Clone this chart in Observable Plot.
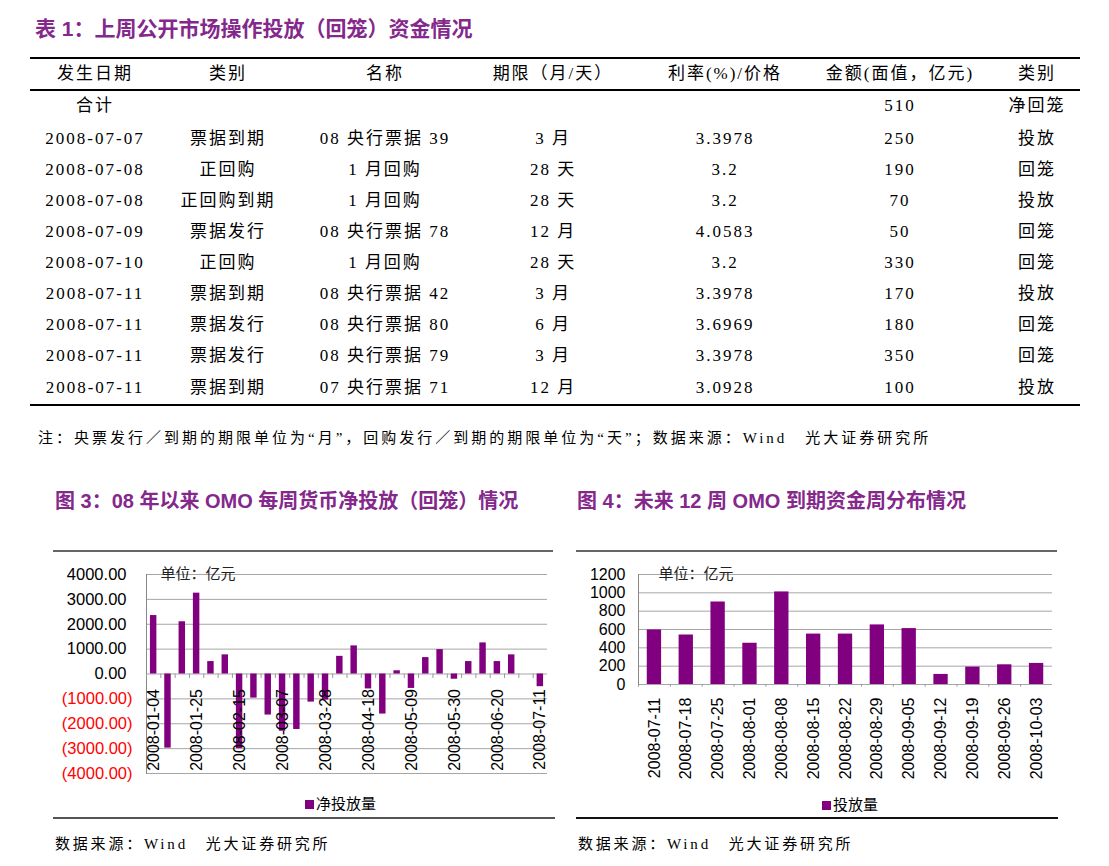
<!DOCTYPE html>
<html><head><meta charset="utf-8">
<script src="https://cdn.jsdelivr.net/npm/d3@7"></script>
<script src="https://cdn.jsdelivr.net/npm/@observablehq/plot@0.6"></script>
<style>
body{margin:0;background:#fff;width:1109px;height:866px;position:relative;overflow:hidden;font-family:"Liberation Serif","Noto Sans CJK SC",serif;color:#000;}
.abs{position:absolute;white-space:nowrap;}
.ttl{color:#84288C;font-family:"Liberation Sans","Noto Sans CJK SC",sans-serif;font-weight:bold;}
.cell{position:absolute;width:240px;text-align:center;font-size:17px;line-height:22px;letter-spacing:2px;white-space:nowrap;}
.line{position:absolute;background:#000;}
.small{font-size:15px;font-family:"Liberation Serif","Noto Sans CJK SC",serif;}
.leg{font-family:"Noto Sans CJK SC",sans-serif;font-size:15px;}
.sq{display:inline-block;width:9px;height:9px;background:#800080;margin-right:2px;vertical-align:0px;}
</style></head>
<body>
<div id="root"></div>
<script>
// ---------- table data ----------
const tableHeaders = ["发生日期","类别","名称","期限（月/天）","利率(%)/价格","金额(面值，亿元)","类别"];
const totalLabel = "合计";
const totalAmount = "510";
const totalDir = "净回笼";
const tableDates = ["2008-07-07","2008-07-08","2008-07-08","2008-07-09","2008-07-10","2008-07-11","2008-07-11","2008-07-11","2008-07-11"];
const tableTypes = ["票据到期","正回购","正回购到期","票据发行","正回购","票据到期","票据发行","票据发行","票据到期"];
const tableNames = ["08 央行票据 39","1 月回购","1 月回购","08 央行票据 78","1 月回购","08 央行票据 42","08 央行票据 80","08 央行票据 79","07 央行票据 71"];
const tableTerms = ["3 月","28 天","28 天","12 月","28 天","3 月","6 月","3 月","12 月"];
const tableRates = ["3.3978","3.2","3.2","4.0583","3.2","3.3978","3.6969","3.3978","3.0928"];
const tableAmounts = ["250","190","70","50","330","170","180","350","100"];
const tableDirs = ["投放","回笼","投放","回笼","回笼","投放","回笼","回笼","投放"];

// ---------- chart 3 data ----------
const leftDates = ["2008-01-04","2008-01-11","2008-01-18","2008-01-25","2008-02-01","2008-02-08","2008-02-15","2008-02-22","2008-02-29","2008-03-07","2008-03-14","2008-03-21","2008-03-28","2008-04-04","2008-04-11","2008-04-18","2008-04-25","2008-05-02","2008-05-09","2008-05-16","2008-05-23","2008-05-30","2008-06-06","2008-06-13","2008-06-20","2008-06-27","2008-07-04","2008-07-11"];
const leftValues = [2350,-2980,2100,3250,500,770,-3000,-970,-1650,-2300,-2230,-1130,-1050,710,1130,-600,-1610,130,-580,660,980,-210,500,1250,500,770,0,-510];
const leftTickLabels = ["2008-01-04","2008-01-25","2008-02-15","2008-03-07","2008-03-28","2008-04-18","2008-05-09","2008-05-30","2008-06-20","2008-07-11"];
const leftYTicks = [-4000,-3000,-2000,-1000,0,1000,2000,3000,4000];

// ---------- chart 4 data ----------
const rightDates = ["2008-07-11","2008-07-18","2008-07-25","2008-08-01","2008-08-08","2008-08-15","2008-08-22","2008-08-29","2008-09-05","2008-09-12","2008-09-19","2008-09-26","2008-10-03"];
const rightValues = [595,540,900,450,1010,550,550,650,610,110,190,215,230];
const rightYTicks = [0,200,400,600,800,1000,1200];

const unitText = "单位：亿元";
const root = document.getElementById("root");
function add(html){ root.insertAdjacentHTML("beforeend", html); }

// ---------- titles ----------
add(`<div class="abs ttl" style="left:35px;top:12px;font-size:21px;">表 1：上周公开市场操作投放（回笼）资金情况</div>`);
add(`<div class="abs ttl" style="left:55px;top:485px;font-size:20px;">图 3：08 年以来 OMO 每周货币净投放（回笼）情况</div>`);
add(`<div class="abs ttl" style="left:577px;top:485px;font-size:20px;">图 4：未来 12 周 OMO 到期资金周分布情况</div>`);

// ---------- table ----------
const colX = [95,228,385,553,725,900,1037];
const rowY = [139,170,201,232,263,294,325,356,388];
function cell(cx, cy, txt){ add(`<div class="cell" style="left:${cx-120}px;top:${cy-11}px;">${txt}</div>`); }
add(`<div class="line" style="left:30px;top:57px;width:1050px;height:2px;"></div>`);
add(`<div class="line" style="left:30px;top:89px;width:1050px;height:2px;"></div>`);
add(`<div class="line" style="left:30px;top:404px;width:1050px;height:1.5px;"></div>`);
tableHeaders.forEach((h,i)=>cell(colX[i],74,h));
cell(colX[0],106,totalLabel); cell(colX[5],106,totalAmount); cell(colX[6],106,totalDir);
const cols = [tableDates,tableTypes,tableNames,tableTerms,tableRates,tableAmounts,tableDirs];
rowY.forEach((y,r)=>cols.forEach((c,i)=>cell(colX[i],y,c[r])));
add(`<div class="abs small" style="left:38px;top:426px;letter-spacing:3px;">注：央票发行／到期的期限单位为“月”，回购发行／到期的期限单位为“天”；数据来源：Wind　光大证券研究所</div>`);

// ---------- chart boxes ----------
add(`<div class="line" style="left:53px;top:550px;width:500px;height:2px;background:#666;"></div>`);
add(`<div class="line" style="left:576px;top:550px;width:481px;height:2px;background:#666;"></div>`);
add(`<div class="line" style="left:53px;top:817px;width:502px;height:2px;background:#555;"></div>`);
add(`<div class="line" style="left:576px;top:817px;width:482px;height:1.5px;background:#111;"></div>`);
add(`<div class="abs leg" style="left:305px;top:792px;"><span class="sq"></span>净投放量</div>`);
add(`<div class="abs leg" style="left:822px;top:793px;"><span class="sq"></span>投放量</div>`);
add(`<div class="abs small" style="left:55px;top:832px;letter-spacing:2.8px;">数据来源：Wind　光大证券研究所</div>`);
add(`<div class="abs small" style="left:578px;top:832px;letter-spacing:2.8px;">数据来源：Wind　光大证券研究所</div>`);

const purple = "#800080";
const grid = "#a6a6a6";
const fmtPos = d => d.toFixed(2);
const fmtNeg = d => `(${Math.abs(d).toFixed(2)})`;

// ---------- left chart ----------
const leftData = leftDates.map((d,i)=>({date:d, value:leftValues[i]}));
const leftPlot = Plot.plot({
  width:500, height:230,
  marginLeft:93, marginRight:6, marginTop:18, marginBottom:13,
  x:{type:"band", domain:leftDates, paddingInner:0.55, paddingOuter:0.275, round:false, axis:null},
  y:{domain:[-4000,4000], axis:null},
  style:{fontFamily:"Liberation Sans, Arial, sans-serif", fontSize:"16.5px", background:"transparent", overflow:"visible"},
  marks:[
    Plot.ruleY(leftYTicks,{stroke:grid}),
    Plot.frame({anchor:"left", stroke:"#888"}),
    Plot.barY(leftData,{x:"date", y:"value", fill:purple}),
    Plot.ruleX(leftDates,{x:d=>d, y1:0, y2:-180, dx:-7.16, stroke:"#999"}),
    Plot.text(leftTickLabels,{x:d=>d, y:0, text:d=>d, rotate:-90, textAnchor:"end", dy:15, fill:"#000", fontSize:16}),
    Plot.text(leftYTicks.filter(d=>d>=0),{y:d=>d, frameAnchor:"left", text:fmtPos, textAnchor:"end", dx:-20, fill:"#000"}),
    Plot.text(leftYTicks.filter(d=>d<0),{y:d=>d, frameAnchor:"left", text:fmtNeg, textAnchor:"end", dx:-14, fill:"#ff0000"}),
    Plot.text([unitText],{frameAnchor:"top-left", text:d=>d, dx:14, lineAnchor:"middle", fontSize:15, fontFamily:"Noto Sans CJK SC", fill:"#222"})
  ]
});
const lw = document.createElement("div");
lw.className="abs"; lw.style.left="53px"; lw.style.top="556px";
lw.appendChild(leftPlot); root.appendChild(lw);

// ---------- right chart ----------
const rightData = rightDates.map((d,i)=>({date:d, value:rightValues[i]}));
const rightPlot = Plot.plot({
  width:481, height:235,
  marginLeft:62, marginRight:5, marginTop:18, marginBottom:107,
  x:{type:"band", domain:rightDates, paddingInner:0.55, paddingOuter:0.275, round:false, axis:null},
  y:{domain:[0,1200], axis:null},
  style:{fontFamily:"Liberation Sans, Arial, sans-serif", fontSize:"16px", background:"transparent", overflow:"visible"},
  marks:[
    Plot.ruleY(rightYTicks,{stroke:grid}),
    Plot.frame({anchor:"left", stroke:"#888"}),
    Plot.barY(rightData,{x:"date", y:"value", fill:purple}),
    Plot.ruleX(rightDates,{x:d=>d, y1:0, y2:-30, dx:-15.9, stroke:"#999"}),
    Plot.text(rightDates,{x:d=>d, y:0, text:d=>d, rotate:-90, textAnchor:"end", dy:13, fill:"#000", fontSize:16}),
    Plot.text(rightYTicks,{y:d=>d, frameAnchor:"left", text:d=>String(d), textAnchor:"end", dx:-13, fill:"#000"}),
    Plot.text([unitText],{frameAnchor:"top-left", text:d=>d, dx:20, lineAnchor:"middle", fontSize:15, fontFamily:"Noto Sans CJK SC", fill:"#222"})
  ]
});
const rw = document.createElement("div");
rw.className="abs"; rw.style.left="576px"; rw.style.top="556px";
rw.appendChild(rightPlot); root.appendChild(rw);
</script>
</body></html>
